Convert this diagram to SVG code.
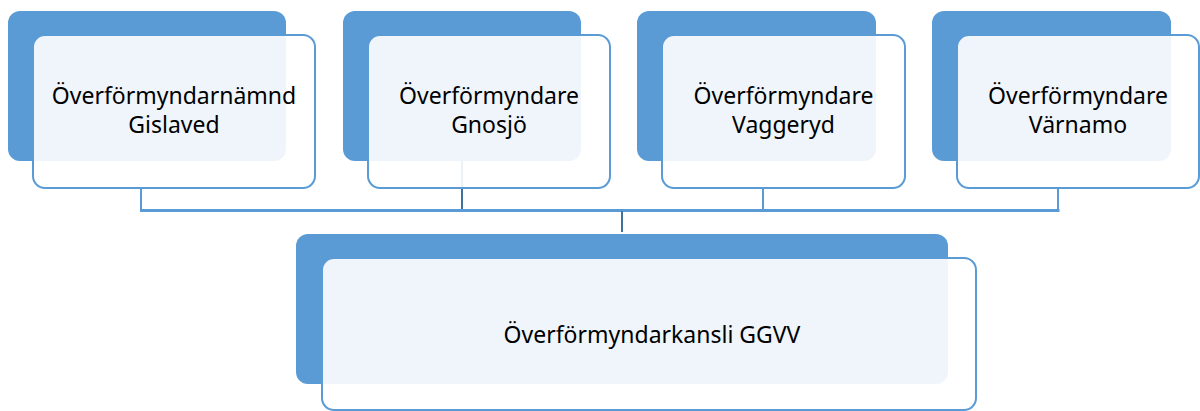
<svg xmlns="http://www.w3.org/2000/svg" width="1200" height="411" viewBox="0 0 1200 411">
<style>
.back{fill:#5B9BD5}
.front{fill:#FFFFFF;fill-opacity:0.9;stroke:#5B9BD5;stroke-width:2}
.lbl{font-family:"Noto Sans","Liberation Sans",sans-serif;font-size:23px;fill:#000000;text-anchor:middle}
.bus{stroke:#5B9BD5;stroke-width:3;fill:none}
.drop{stroke:#5B9BD5;stroke-width:2;fill:none}
.dropd{stroke:#41719C;stroke-width:2;fill:none}
</style>
<rect width="1200" height="411" fill="#FFFFFF"/>
<g id="connectors">
<line class="drop" x1="141" y1="188" x2="141" y2="210"/>
<line class="dropd" x1="462" y1="161" x2="462" y2="210"/>
<line class="drop" x1="763" y1="188" x2="763" y2="210"/>
<line class="drop" x1="1058" y1="188" x2="1058" y2="210"/>
<line class="bus" x1="140" y1="210.5" x2="1059.5" y2="210.5"/>
<line class="dropd" x1="622" y1="211" x2="622" y2="232"/>
</g>
<g id="node-gislaved">
<rect class="back" x="8" y="11" width="278" height="150" rx="12"/>
<rect class="front" x="33" y="35" width="282" height="153" rx="12"/>
<text class="lbl" x="174" y="104">Överförmyndarnämnd</text>
<text class="lbl" x="174" y="133">Gislaved</text>
</g>
<g id="node-gnosjo">
<rect class="back" x="343" y="11" width="238" height="150" rx="12"/>
<rect class="front" x="368" y="35" width="242" height="153" rx="12"/>
<text class="lbl" x="489" y="104">Överförmyndare</text>
<text class="lbl" x="489" y="133">Gnosjö</text>
</g>
<g id="node-vaggeryd">
<rect class="back" x="637" y="11" width="239" height="150" rx="12"/>
<rect class="front" x="662" y="35" width="243" height="153" rx="12"/>
<text class="lbl" x="783.5" y="104">Överförmyndare</text>
<text class="lbl" x="783.5" y="133">Vaggeryd</text>
</g>
<g id="node-varnamo">
<rect class="back" x="932" y="11" width="239" height="150" rx="12"/>
<rect class="front" x="957" y="35" width="242" height="153" rx="12"/>
<text class="lbl" x="1078" y="104">Överförmyndare</text>
<text class="lbl" x="1078" y="133">Värnamo</text>
</g>
<g id="node-kansli">
<rect class="back" x="296" y="234" width="652" height="150" rx="12"/>
<rect class="front" x="322" y="258" width="654" height="152" rx="12"/>
<text class="lbl" x="652" y="343">Överförmyndarkansli GGVV</text>
</g>
</svg>
